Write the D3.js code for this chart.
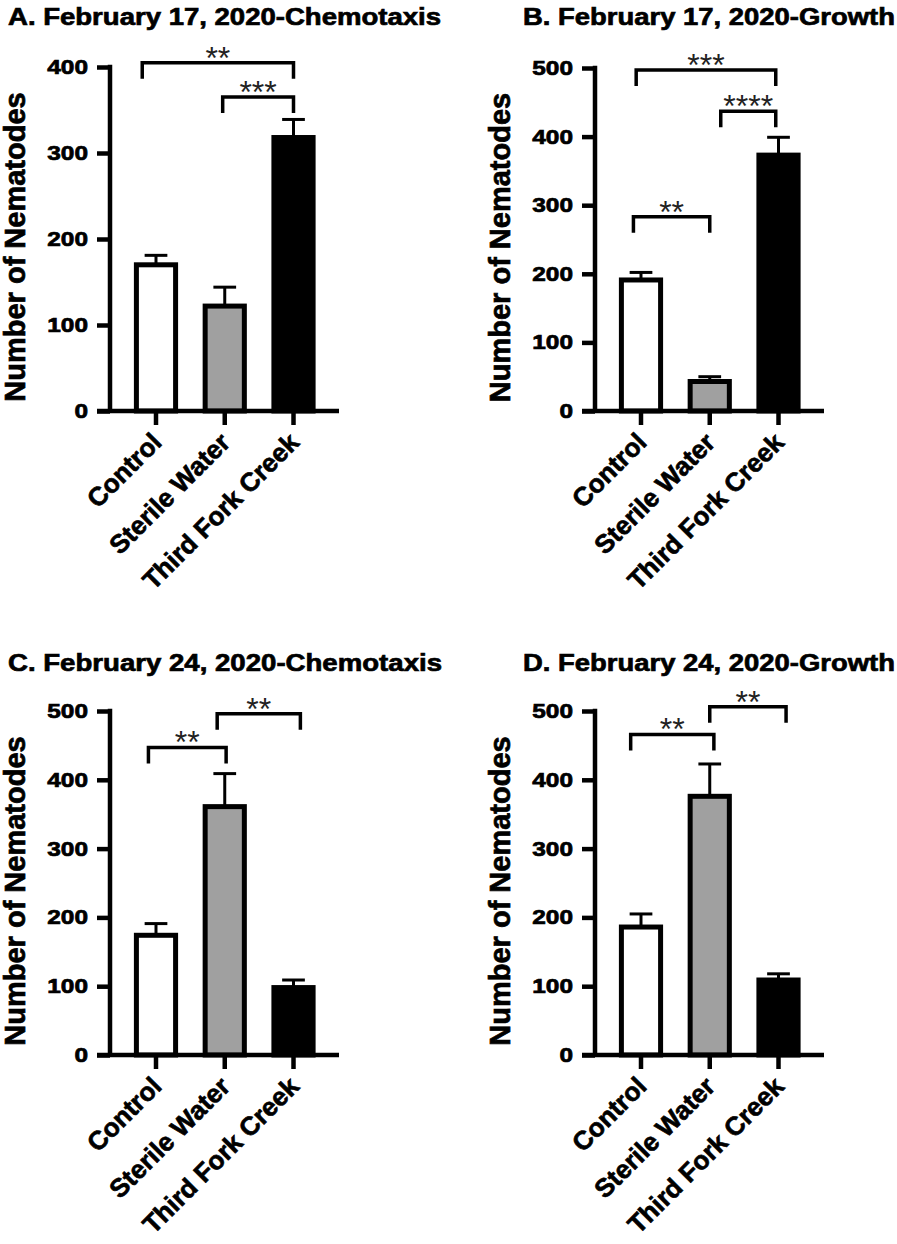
<!DOCTYPE html>
<html>
<head>
<meta charset="utf-8">
<script src="https://cdn.jsdelivr.net/npm/d3@7"></script>
<style>
  html, body { margin: 0; padding: 0; background: #fff; }
  svg { display: block; }
  text { font-family: "Liberation Sans", Arial, Helvetica, sans-serif; }
</style>
</head>
<body>
<svg id="chart" width="897" height="1244"></svg>
<script>
// ---------------- DATA ----------------
const categories = ["Control", "Sterile Water", "Third Fork Creek"];
const panelTitles = [
  "A. February 17, 2020-Chemotaxis",
  "B. February 17, 2020-Growth",
  "C. February 24, 2020-Chemotaxis",
  "D. February 24, 2020-Growth"
];
const yAxisTitle = "Number of Nematodes";

const meansA = [170, 122, 318];
const semA   = [11, 22, 21];
const meansB = [191, 43, 373];
const semB   = [11, 7, 26];
const meansC = [174, 361, 98];
const semC   = [17, 48, 11];
const meansD = [186, 376, 109];
const semD   = [19, 47, 9];

const yMaxA = 400, yMaxB = 500, yMaxC = 500, yMaxD = 500;
const yTicksA = [0, 100, 200, 300, 400];
const yTicksB = [0, 100, 200, 300, 400, 500];
const yTicksC = [0, 100, 200, 300, 400, 500];
const yTicksD = [0, 100, 200, 300, 400, 500];

// significance brackets: from / to in category index units, y in data units
const bracketsA = [
  { from: -0.2, to: 2.0, y: 405, label: "**" },
  { from: 0.97, to: 2.0, y: 365, label: "***" }
];
const bracketsB = [
  { from: -0.07, to: 1.96, y: 497, label: "***" },
  { from: 1.16, to: 1.96, y: 437, label: "****" },
  { from: -0.11, to: 1.0, y: 283, label: "**" }
];
const bracketsC = [
  { from: -0.11, to: 1.02, y: 447, label: "**" },
  { from: 0.89, to: 2.1, y: 496, label: "**" }
];
const bracketsD = [
  { from: -0.15, to: 1.06, y: 466, label: "**" },
  { from: 1.0, to: 2.11, y: 506, label: "**" }
];

const barColors = ["#ffffff", "#a0a0a0", "#000000"];

// ---------------- LAYOUT ----------------
const panels = [
  { title: panelTitles[0], means: meansA, sem: semA, yMax: yMaxA, ticks: yTicksA, brackets: bracketsA,
    axisX: 110, y0: 411, yTop: 67, titleX: 8, titleY: 25, titleW: 433, labelX: 25 },
  { title: panelTitles[1], means: meansB, sem: semB, yMax: yMaxB, ticks: yTicksB, brackets: bracketsB,
    axisX: 595, y0: 411, yTop: 68, titleX: 523, titleY: 25, titleW: 372, labelX: 510 },
  { title: panelTitles[2], means: meansC, sem: semC, yMax: yMaxC, ticks: yTicksC, brackets: bracketsC,
    axisX: 110, y0: 1055, yTop: 711, titleX: 8, titleY: 671, titleW: 434, labelX: 25 },
  { title: panelTitles[3], means: meansD, sem: semD, yMax: yMaxD, ticks: yTicksD, brackets: bracketsD,
    axisX: 595, y0: 1055, yTop: 711, titleX: 523, titleY: 671, titleW: 372, labelX: 510 }
];

const svg = d3.select("#chart");
const heavy = 0.7; // extra stroke to mimic the heavier bold face

panels.forEach(p => {
  const g = svg.append("g");

  const y = d3.scaleLinear().domain([0, p.yMax]).range([p.y0, p.yTop]);
  const x = d3.scaleBand().domain(categories)
    .range([p.axisX, p.axisX + 229.5])
    .paddingInner(0.43).paddingOuter(0.384);
  const bw = x.bandwidth();
  const xi = d3.scaleLinear().domain([0, 2])
    .range([x(categories[0]) + bw / 2, x(categories[2]) + bw / 2]);

  // title
  g.append("text")
    .attr("x", p.titleX).attr("y", p.titleY)
    .attr("font-size", 24).attr("font-weight", "bold")
    .attr("textLength", p.titleW).attr("lengthAdjust", "spacingAndGlyphs")
    .attr("fill", "#000").attr("stroke", "#000").attr("stroke-width", heavy)
    .text(p.title);

  // y axis title
  g.append("text")
    .attr("transform", `translate(${p.labelX},${(p.y0 + p.yTop) / 2 + 8}) rotate(-90)`)
    .attr("text-anchor", "middle")
    .attr("font-size", 29).attr("font-weight", "bold")
    .attr("stroke", "#000").attr("stroke-width", heavy)
    .text(yAxisTitle);

  const data = categories.map((c, i) => ({ c, i, m: p.means[i], s: p.sem[i] }));

  // error bars (upper whisker only)
  g.selectAll(".err").data(data).enter().append("line")
    .attr("x1", d => x(d.c) + bw / 2).attr("x2", d => x(d.c) + bw / 2)
    .attr("y1", d => y(d.m)).attr("y2", d => y(d.m + d.s))
    .attr("stroke", "#000").attr("stroke-width", 3);
  g.selectAll(".cap").data(data).enter().append("line")
    .attr("x1", d => x(d.c) + bw / 2 - bw * 0.29).attr("x2", d => x(d.c) + bw / 2 + bw * 0.29)
    .attr("y1", d => y(d.m + d.s)).attr("y2", d => y(d.m + d.s))
    .attr("stroke", "#000").attr("stroke-width", 3);

  // bars
  g.selectAll(".bar").data(data).enter().append("rect")
    .attr("x", d => x(d.c)).attr("width", bw)
    .attr("y", d => y(d.m)).attr("height", d => y(0) - y(d.m))
    .attr("fill", (d, i) => barColors[i])
    .attr("stroke", "#000").attr("stroke-width", 5);

  // y axis
  const yAxis = d3.axisLeft(y).tickValues(p.ticks).tickSize(13).tickPadding(9).tickFormat(d3.format("d"));
  const ya = g.append("g").attr("transform", `translate(${p.axisX},0)`).call(yAxis);
  ya.select(".domain").remove();
  ya.append("line").attr("x1", 0).attr("x2", 0).attr("y1", y(p.yMax) - 2.25).attr("y2", y(0))
    .attr("stroke", "#000").attr("stroke-width", 4.5);
  ya.selectAll(".tick line").attr("stroke", "#000").attr("stroke-width", 4.5);
  ya.selectAll(".tick text")
    .attr("font-size", 20).attr("font-weight", "bold").attr("fill", "#000")
    .attr("stroke", "#000").attr("stroke-width", heavy)
    .attr("font-family", "'Liberation Sans', Arial, sans-serif")
    .each(function () {
      const len = this.getComputedTextLength();
      d3.select(this).attr("textLength", len * 1.22).attr("lengthAdjust", "spacingAndGlyphs");
    });

  // x axis
  const xAxis = d3.axisBottom(x).tickSize(14).tickFormat("");
  const xa = g.append("g").attr("transform", `translate(0,${p.y0})`).call(xAxis);
  xa.select(".domain").remove();
  xa.append("line").attr("x1", p.axisX - 13).attr("x2", p.axisX + 229).attr("y1", 0).attr("y2", 0)
    .attr("stroke", "#000").attr("stroke-width", 4.5);
  xa.selectAll(".tick line").attr("stroke", "#000").attr("stroke-width", 4.5);

  // category labels
  g.selectAll(".cat").data(categories).enter().append("text")
    .attr("transform", c => `translate(${x(c) + bw / 2 + 7},${p.y0 + 33}) rotate(-45)`)
    .attr("text-anchor", "end")
    .attr("font-size", 26).attr("font-weight", "bold")
    .attr("stroke", "#000").attr("stroke-width", heavy)
    .text(c => c);

  // significance brackets
  const drop = 16;
  p.brackets.forEach(b => {
    const x1 = xi(b.from), x2 = xi(b.to), yy = y(b.y);
    g.append("path")
      .attr("d", `M${x1},${yy + drop}V${yy}H${x2}V${yy + drop}`)
      .attr("fill", "none").attr("stroke", "#000").attr("stroke-width", 3.5);
    g.append("text")
      .attr("x", (x1 + x2) / 2).attr("y", yy + 6)
      .attr("text-anchor", "middle")
      .attr("font-size", 32).attr("fill", "#222")
      .text(b.label);
  });
});
</script>
</body>
</html>
